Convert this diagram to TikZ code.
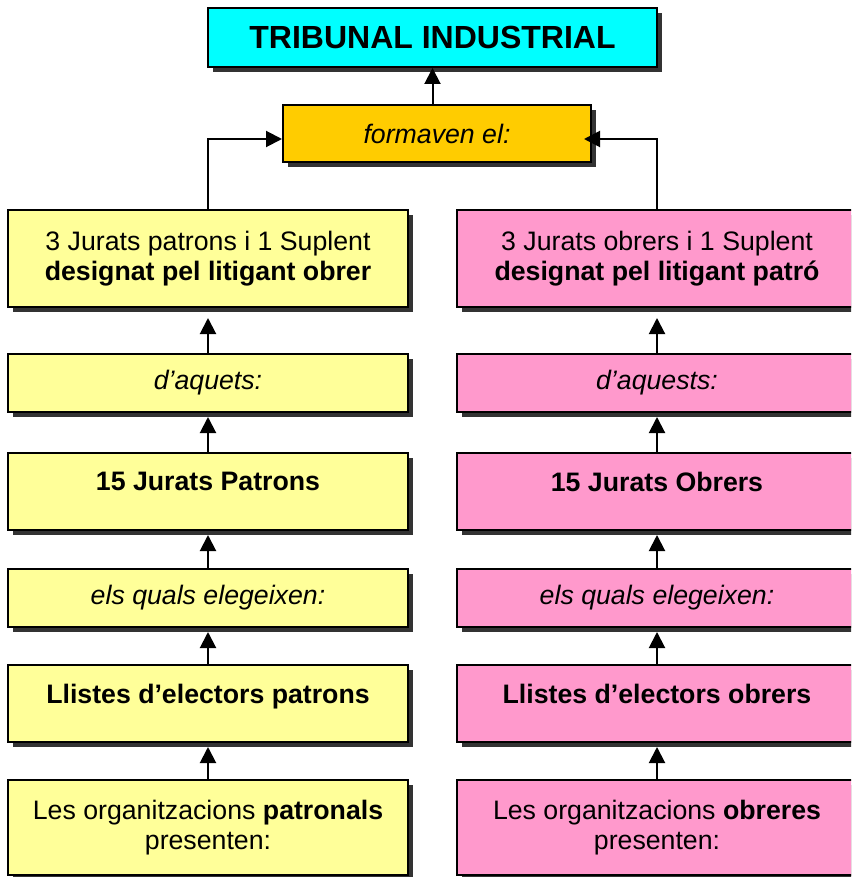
\documentclass[tikz,border=0pt]{standalone}
\usepackage{fontspec}
\setmainfont{Liberation Sans}
\usetikzlibrary{arrows.meta,shadows}
\definecolor{titlecyan}{HTML}{00FFFF}
\definecolor{formorange}{HTML}{FFCC00}
\definecolor{patroyellow}{HTML}{FFFF99}
\definecolor{obrerpink}{HTML}{FF99CC}
\definecolor{shadowgray}{HTML}{333333}
\newcommand\boxfont{\fontsize{26.7pt}{30pt}\selectfont}

\begin{document}
\begin{tikzpicture}[x=1pt, y=-1pt,
  box/.style={draw, line width=2pt, align=center, inner sep=0pt, font=\boxfont,
    drop shadow={shadow xshift=5pt, shadow yshift=-5pt, fill=shadowgray, opacity=1}},
  patro/.style={box, fill=patroyellow, minimum width=400pt},
  obrer/.style={box, fill=obrerpink, minimum width=400pt},
  ital/.style={font=\boxfont\itshape},
  heavy/.style={font=\boxfont\bfseries, text depth=20pt},
  flow/.style={line width=2pt, -{Triangle[length=16pt,width=16pt]}, shorten >=4pt}]
  \useasboundingbox (0,0) rectangle (851,877);
  \clip (0,0) rectangle (851,877);
  % top of the tree
  \node[box, fill=titlecyan, minimum width=449pt, minimum height=59pt,
        font=\fontsize{32pt}{36pt}\selectfont\bfseries] (title) at (432.5,37.5) {TRIBUNAL INDUSTRIAL};
  \node[box, ital, fill=formorange, minimum width=308pt, minimum height=57pt] (form) at (437,133.5) {formaven el:};
  % patrons side
  \node[patro, minimum height=97pt] (designpat) at (208,258.5)
       {3 Jurats patrons i 1 Suplent\\\textbf{designat pel litigant obrer}};
  \node[patro, ital, minimum height=58pt] (daqpat) at (208,383) {d’aquets:};
  \node[patro, heavy, minimum height=77pt] (juratspat) at (208,491.5) {15 Jurats Patrons};
  \node[patro, ital, minimum height=58pt] (elegpat) at (208,598) {els quals elegeixen:};
  \node[patro, heavy, minimum height=77pt] (llistpat) at (208,703.5) {Llistes d’electors patrons};
  \node[patro, minimum height=95pt] (orgpat) at (208,827.5)
       {Les organitzacions \textbf{patronals}\\presenten:};
  % obrers side
  \node[obrer, minimum height=97pt] (designobr) at (657,258.5)
       {3 Jurats obrers i 1 Suplent\\\textbf{designat pel litigant patró}};
  \node[obrer, ital, minimum height=58pt] (daqobr) at (657,383) {d’aquests:};
  \node[obrer, heavy, minimum height=77pt] (juratsobr) at (657,491.5) {15 Jurats Obrers};
  \node[obrer, ital, minimum height=58pt] (elegobr) at (657,598) {els quals elegeixen:};
  \node[obrer, heavy, minimum height=77pt] (llistobr) at (657,703.5) {Llistes d’electors obrers};
  \node[obrer, minimum height=95pt] (orgobr) at (657,827.5)
       {Les organitzacions \textbf{obreres}\\presenten:};
  % arrows to the top
  \draw[flow, shorten >=0pt] (title.south |- form.north) -- (title.south);
  \draw[flow, shorten >=0pt] (designpat.north) |- ([yshift=-5.5pt]form.west);
  \draw[flow, shorten >=-8pt] (designobr.north) |- ([yshift=-5.5pt]form.east);
  % arrows up each side
  \draw[flow, shorten >=10pt] (daqpat.north) -- (designpat.south);
  \draw[flow] (juratspat.north) -- (daqpat.south);
  \draw[flow] (elegpat.north) -- (juratspat.south);
  \draw[flow] (llistpat.north) -- (elegpat.south);
  \draw[flow] (orgpat.north) -- (llistpat.south);
  \draw[flow, shorten >=10pt] (daqobr.north) -- (designobr.south);
  \draw[flow] (juratsobr.north) -- (daqobr.south);
  \draw[flow] (elegobr.north) -- (juratsobr.south);
  \draw[flow] (llistobr.north) -- (elegobr.south);
  \draw[flow] (orgobr.north) -- (llistobr.south);
\end{tikzpicture}
\end{document}
